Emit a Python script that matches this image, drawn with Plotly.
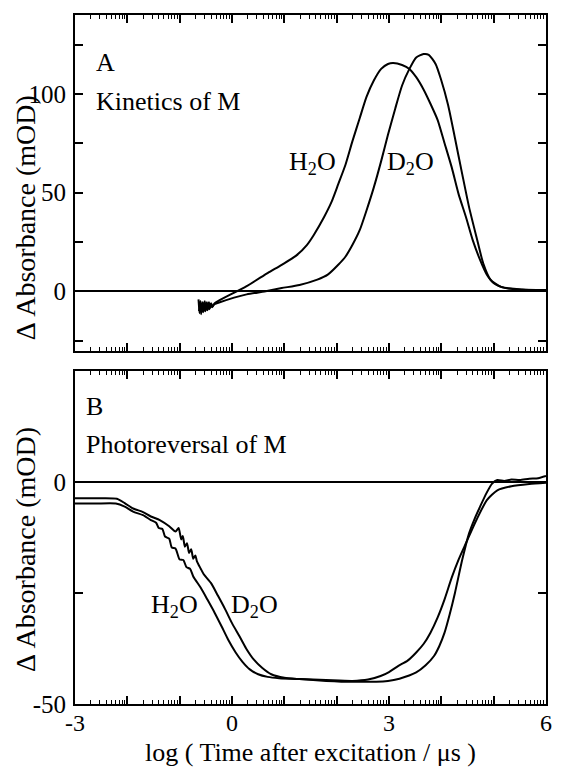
import numpy as np
import plotly.graph_objects as go

# ---------------- data ----------------
# Panel A: kinetics of M
h2o_a_x = [-0.64, -0.62, -0.60, -0.58, -0.56, -0.54, -0.52, -0.50, -0.48, -0.46, -0.44, -0.42,
           -0.40, -0.37, -0.33, -0.26,
           0.28, 0.68, 0.95, 1.22, 1.43, 1.56, 1.76, 1.90, 2.03, 2.17, 2.30, 2.44, 2.57, 2.71,
           2.85, 2.98, 3.08, 3.25, 3.39, 3.52, 3.66, 3.79, 3.93, 4.06, 4.20, 4.33, 4.47, 4.60,
           4.74, 4.87, 5.01, 5.21, 5.55, 5.95, 6.00]
h2o_a_y = [-4.0, -11.0, -5.0, -10.5, -5.5, -10.0, -5.0, -9.5, -5.5, -9.0, -5.5, -8.5,
           -6.0, -7.5, -6.0, -4.8,
           2.7, 9.3, 13.5, 18.0, 23.5, 28.5, 37.7, 45.2, 54.3, 64.3, 76.0, 87.7, 98.5, 106.8,
           112.7, 115.2, 115.7, 114.7, 112.7, 108.5, 102.3, 95.2, 86.8, 75.2, 62.7, 49.3, 37.7, 26.0,
           16.0, 8.5, 4.0, 1.8, 0.8, 0.7, 0.7]

d2o_a_x = [-0.63, -0.61, -0.59, -0.57, -0.55, -0.53, -0.51, -0.49, -0.47, -0.45, -0.43, -0.41,
           -0.38, -0.34, -0.26, 0.28, 0.62,
           0.95, 1.29, 1.63, 1.83, 2.03, 2.17, 2.30, 2.44, 2.57, 2.71, 2.85, 2.98, 3.12,
           3.25, 3.39, 3.52, 3.66, 3.76, 3.89, 3.99, 4.13, 4.26, 4.40, 4.53, 4.67, 4.80,
           4.94, 5.14, 5.55, 5.95, 6.00]
d2o_a_y = [-10.0, -5.0, -11.5, -6.0, -10.5, -5.5, -10.0, -6.0, -9.5, -6.0, -9.0, -6.5,
           -8.0, -6.5, -5.7, -1.5, 0.0,
           1.7, 3.3, 6.0, 8.5, 13.5, 17.7, 23.5, 31.0, 41.0, 52.7, 66.0, 79.3, 92.7,
           104.3, 112.7, 118.5, 120.2, 119.8, 115.2, 107.7, 94.3, 77.7, 59.3, 42.7, 27.7, 14.3,
           6.0, 2.3, 1.0, 0.7, 0.7]

# Panel B: photoreversal of M
h2o_b_x = [-3.00, -2.60, -2.22, -2.05, -1.89, -1.70, -1.55, -1.45, -1.40, -1.33, -1.28, -1.20, -1.15,
           -1.08, -1.00, -0.93, -0.87, -0.80, -0.74, -0.60, -0.47, -0.33, -0.20, -0.07, 0.07, 0.20,
           0.34, 0.50, 0.68, 0.90, 1.29, 1.80, 2.30, 2.60, 2.84, 3.00, 3.18, 3.35, 3.52, 3.66, 3.79,
           3.93, 4.06, 4.20, 4.33, 4.47, 4.67, 4.87, 5.07, 5.34, 5.68, 6.00]
h2o_b_y = [-4.9, -4.9, -4.9, -5.6, -6.7, -7.5, -8.6, -9.2, -10.4, -10.6, -12.3, -12.8, -14.8,
           -15.0, -17.5, -17.6, -19.2, -19.6, -21.3, -23.8, -26.5, -29.5, -32.5, -35.6, -38.4, -40.5,
           -42.2, -43.3, -43.9, -44.2, -44.4, -44.6, -44.8, -44.5, -43.7, -42.8, -41.4, -40.3, -38.4,
           -36.5, -34.0, -30.5, -26.5, -21.5, -17.5, -13.8, -8.6, -4.1, -1.9, -1.0, -0.5, -0.2]

d2o_b_x = [-3.00, -2.60, -2.20, -2.05, -1.89, -1.70, -1.55, -1.38, -1.20, -1.08, -1.02, -0.97,
           -0.94, -0.90, -0.86, -0.82, -0.78, -0.74, -0.70, -0.67, -0.60, -0.54, -0.40, -0.27,
           -0.13, 0.00, 0.14, 0.27, 0.41, 0.58, 0.75, 1.00, 1.29, 1.80, 2.30, 2.98, 3.20, 3.52,
           3.70, 3.86, 3.96, 4.06, 4.16, 4.26, 4.40, 4.53, 4.64, 4.74, 4.86, 4.97, 5.07, 5.20,
           5.34, 5.50, 5.68, 5.85, 6.00]
d2o_b_y = [-3.7, -3.7, -3.8, -4.8, -6.0, -6.8, -7.8, -8.6, -10.0, -11.2, -10.4, -13.0,
           -12.2, -14.6, -13.8, -16.0, -15.2, -17.3, -16.6, -17.9, -19.5, -20.8, -22.8, -25.6,
           -28.7, -31.8, -34.7, -37.5, -39.9, -41.9, -43.3, -44.1, -44.4, -44.8, -45.0, -44.8, -44.3, -42.9,
           -41.3, -39.2, -37.0, -34.0, -29.8, -25.0, -17.5, -11.6, -8.2, -5.6, -2.6, -0.4, 0.4, 0.2,
           0.5, 0.4, 0.7, 0.8, 1.3]

x_range = [-3, 6]
x_major = list(range(-3, 7))
x_labels = ["-3", "", "", "0", "", "", "3", "", "", "6"]
x_minor = [d + np.log10(k) for d in range(-3, 6) for k in range(2, 10)]

ya_range = [-30, 140]
ya_ticks = [-25, 0, 25, 50, 75, 100, 125]
ya_labels = ["", "0", "", "50", "", "100", ""]
yb_range = [-50, 25]
yb_ticks = [-50, -25, 0, 25]
yb_labels = ["-50", "", "0", ""]

FONT = "Liberation Serif, Times New Roman, Times, serif"
BLACK = "#000000"

fig = go.Figure()
line = dict(color=BLACK, width=2, shape="spline", smoothing=0.6)
fig.add_trace(go.Scatter(x=h2o_a_x, y=h2o_a_y, mode="lines", line=line, xaxis="x", yaxis="y", name="H2O A"))
fig.add_trace(go.Scatter(x=d2o_a_x, y=d2o_a_y, mode="lines", line=line, xaxis="x", yaxis="y", name="D2O A"))
fig.add_trace(go.Scatter(x=h2o_b_x, y=h2o_b_y, mode="lines", line=line, xaxis="x2", yaxis="y2", name="H2O B"))
fig.add_trace(go.Scatter(x=d2o_b_x, y=d2o_b_y, mode="lines", line=line, xaxis="x2", yaxis="y2", name="D2O B"))

top_dom = [0.5128, 1.0]
bot_dom = [0.0, 0.4837]

def xax(anchor, show_labels):
    return dict(
        domain=[0, 1], range=x_range, anchor=anchor,
        showline=True, linecolor=BLACK, linewidth=2, mirror="ticks",
        ticks="inside", tickvals=x_major, ticktext=x_labels, ticklen=8, tickwidth=1.5, tickcolor=BLACK,
        minor=dict(tickmode="array", tickvals=x_minor, ticks="inside", ticklen=4, tickwidth=1.2, tickcolor=BLACK),
        showticklabels=show_labels, showgrid=False, zeroline=False,
        tickfont=dict(family=FONT, size=24, color=BLACK), ticklabelstandoff=-4,
    )

def yax(anchor, dom, rng, tv, tt):
    return dict(
        domain=dom, range=rng, anchor=anchor,
        showline=True, linecolor=BLACK, linewidth=2, mirror="ticks",
        ticks="inside", tickvals=tv, ticktext=tt, ticklen=8, tickwidth=1.5, tickcolor=BLACK,
        showgrid=False, zeroline=True, zerolinecolor=BLACK, zerolinewidth=1.5,
        tickfont=dict(family=FONT, size=25, color=BLACK), ticklabelstandoff=2,
    )

fig.update_layout(
    width=562, height=767,
    margin=dict(l=75, r=10, t=15, b=63),
    paper_bgcolor="white", plot_bgcolor="white",
    showlegend=False,
    xaxis=xax("y", False),
    yaxis=yax("x", top_dom, ya_range, ya_ticks, ya_labels),
    xaxis2=xax("y2", True),
    yaxis2=yax("x2", bot_dom, yb_range, yb_ticks, yb_labels),
)

f26 = dict(family=FONT, size=26, color=BLACK)
ann = [
    dict(text="A", x=-2.64, y=116.2, xref="x", yref="y", xanchor="left", yanchor="middle", showarrow=False, font=f26),
    dict(text="Kinetics of M", x=-2.64, y=96.4, xref="x", yref="y", xanchor="left", yanchor="middle", showarrow=False, font=f26),
    dict(text="H<sub>2</sub>O", x=1.53, y=65, xref="x", yref="y", xanchor="center", yanchor="middle", showarrow=False, font=f26),
    dict(text="D<sub>2</sub>O", x=3.42, y=65, xref="x", yref="y", xanchor="center", yanchor="middle", showarrow=False, font=f26),
    dict(text="B", x=-2.83, y=16.9, xref="x2", yref="y2", xanchor="left", yanchor="middle", showarrow=False, font=f26),
    dict(text="Photoreversal of M", x=-2.83, y=8.3, xref="x2", yref="y2", xanchor="left", yanchor="middle", showarrow=False, font=f26),
    dict(text="H<sub>2</sub>O", x=-1.09, y=-28, xref="x2", yref="y2", xanchor="center", yanchor="middle", showarrow=False, font=f26),
    dict(text="D<sub>2</sub>O", x=0.43, y=-28, xref="x2", yref="y2", xanchor="center", yanchor="middle", showarrow=False, font=f26),
    dict(text="\u0394 Absorbance (mOD)", x=0, y=0.705, xref="paper", yref="paper", xanchor="center", yanchor="middle",
         xshift=-50, textangle=-90, showarrow=False, font=dict(family=FONT, size=28, color=BLACK)),
    dict(text="\u0394 Absorbance (mOD)", x=0, y=0.2235, xref="paper", yref="paper", xanchor="center", yanchor="middle",
         xshift=-50, textangle=-90, showarrow=False, font=dict(family=FONT, size=28, color=BLACK)),
    dict(text="log ( Time after excitation / \u03bcs )", x=0.5, y=0, xref="paper", yref="paper", xanchor="center",
         yanchor="middle", yshift=-48, showarrow=False, font=dict(family=FONT, size=26, color=BLACK)),
]
fig.update_layout(annotations=ann)

fig.write_html("out.html")
